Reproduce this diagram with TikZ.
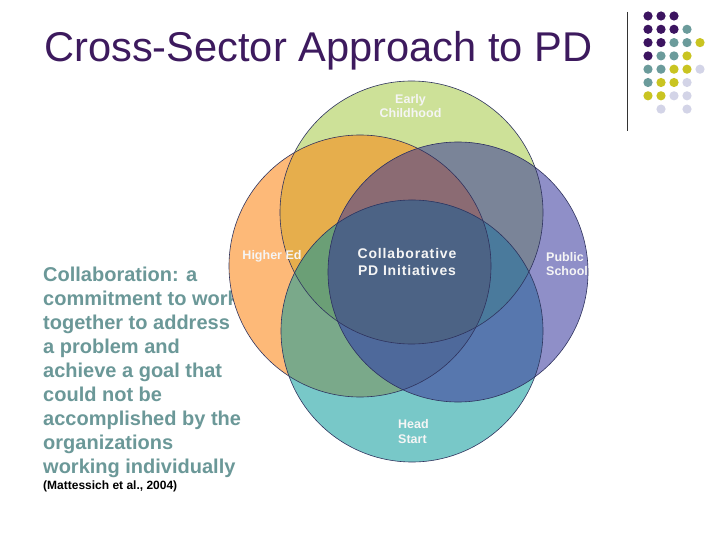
\documentclass[tikz,border=0pt]{standalone}
\usepackage{fontspec}
\setmainfont{Liberation Sans}
\newfontfamily\collabfont[LetterSpace=6]{Liberation Sans}
\usepackage{tikz}
\definecolor{titlepurple}{HTML}{3D1A5E}
\definecolor{bodyteal}{HTML}{6B9898}
\definecolor{vennedge}{HTML}{2F335E}
\definecolor{dotpurple}{HTML}{3C1460}
\definecolor{dotteal}{HTML}{6B9B9B}
\definecolor{dotyellow}{HTML}{C9C421}
\definecolor{dotlilac}{HTML}{D3D4E7}
% region colours of the venn diagram
\definecolor{ecOnly}{HTML}{CDE198}
\definecolor{heOnly}{HTML}{FDB978}
\definecolor{psOnly}{HTML}{8F8FC8}
\definecolor{hsOnly}{HTML}{78C8C8}
\definecolor{ecHe}{HTML}{E6AE4C}
\definecolor{ecPs}{HTML}{7A8498}
\definecolor{ecHs}{HTML}{6CA078}
\definecolor{hePs}{HTML}{80709E}
\definecolor{heHs}{HTML}{7AA98A}
\definecolor{psHs}{HTML}{5777AE}
\definecolor{ecHePs}{HTML}{8B6B73}
\definecolor{ecHeHs}{HTML}{6B9F76}
\definecolor{ecPsHs}{HTML}{4A7A9C}
\definecolor{hePsHs}{HTML}{4E699B}
\definecolor{allFour}{HTML}{4C6385}
\tikzset{
  title text/.style={
    text=titlepurple,
    font=\fontsize{41.6}{50}\selectfont,
    inner sep=0pt
  },
  body text/.style={
    text=bodyteal,
    font=\fontsize{20}{24}\selectfont\bfseries,
    align=left,
    inner sep=0pt
  },
  cite text/.style={
    text=black,
    font=\fontsize{12}{14}\selectfont\bfseries,
    inner sep=0pt
  },
  venn line/.style={draw=vennedge, line width=0.6pt},
  venn label/.style={
    text=white!96!black,
    font=\fontsize{12.5}{14.5}\selectfont\bfseries,
    align=center,
    inner sep=0pt
  },
  collab label/.style={
    venn label,
    font=\fontsize{14}{17}\selectfont\collabfont\bfseries
  },
  corner rule/.style={draw=black!80, line width=1pt}
}
\newcommand{\ecCirc}{(ec) circle[radius=131.5pt]}
\newcommand{\heCirc}{(he) circle[radius=131pt]}
\newcommand{\psCirc}{(ps) circle[radius=130pt]}
\newcommand{\hsCirc}{(hs) circle[radius=131pt]}
\newcommand{\venntwo}[3]{\begin{scope}\clip #1; \fill[#3] #2;\end{scope}}
\newcommand{\vennthree}[4]{\begin{scope}\clip #1; \clip #2; \fill[#4] #3;\end{scope}}
\begin{document}
\begin{tikzpicture}[x=1pt, y=-1pt]
  \useasboundingbox (0,0) rectangle (720,540);
  \fill[white] (0,0) rectangle (720,540);

  % title and corner decoration
  \node[title text, anchor=base west] (title) at (44,62) {Cross-Sector Approach to PD};
  \coordinate (rule top) at (627,12);
  \coordinate (rule bottom) at (627,131);
  \draw[corner rule] (rule top) -- (rule bottom);
  \foreach \c/\r/\col in {0/0/dotpurple, 1/0/dotpurple, 2/0/dotpurple,
      0/1/dotpurple, 1/1/dotpurple, 2/1/dotpurple, 3/1/dotteal,
      0/2/dotpurple, 1/2/dotpurple, 2/2/dotteal, 3/2/dotteal, 4/2/dotyellow,
      0/3/dotpurple, 1/3/dotteal, 2/3/dotteal, 3/3/dotyellow,
      0/4/dotteal, 1/4/dotteal, 2/4/dotyellow, 3/4/dotyellow, 4/4/dotlilac,
      0/5/dotteal, 1/5/dotyellow, 2/5/dotyellow, 3/5/dotlilac,
      0/6/dotyellow, 1/6/dotyellow, 2/6/dotlilac, 3/6/dotlilac,
      1/7/dotlilac, 3/7/dotlilac}
    \fill[\col] ({648+13*\c},{16+13.3*\r}) circle[radius=4.6pt];

  % definition (lies under the circles)
  \node[body text, anchor=north west] (definition) at (43,266.5)
    {Collaboration: a\\commitment to work\\together to address\\a problem and\\achieve a goal that\\could not be\\accomplished by the\\organizations\\working individually};
  \node[cite text, anchor=base west] (cite) at (43,489) {(Mattessich et al., 2004)};

  % the four sectors
  \coordinate (ec) at (411.5,212.5);
  \coordinate (he) at (360,266);
  \coordinate (ps) at (458,272);
  \coordinate (hs) at (412,331);

  \fill[ecOnly] \ecCirc;
  \fill[heOnly] \heCirc;
  \fill[psOnly] \psCirc;
  \fill[hsOnly] \hsCirc;
  \venntwo{\ecCirc}{\heCirc}{ecHe}
  \venntwo{\ecCirc}{\psCirc}{ecPs}
  \venntwo{\ecCirc}{\hsCirc}{ecHs}
  \venntwo{\heCirc}{\psCirc}{hePs}
  \venntwo{\heCirc}{\hsCirc}{heHs}
  \venntwo{\psCirc}{\hsCirc}{psHs}
  \vennthree{\ecCirc}{\heCirc}{\psCirc}{ecHePs}
  \vennthree{\ecCirc}{\heCirc}{\hsCirc}{ecHeHs}
  \vennthree{\ecCirc}{\psCirc}{\hsCirc}{ecPsHs}
  \vennthree{\heCirc}{\psCirc}{\hsCirc}{hePsHs}
  \begin{scope}
    \clip \ecCirc; \clip \heCirc; \clip \psCirc;
    \fill[allFour] \hsCirc;
  \end{scope}

  \draw[venn line] \ecCirc;
  \draw[venn line] \heCirc;
  \draw[venn line] \psCirc;
  \draw[venn line] \hsCirc;

  % labels
  \node[venn label] (early label) at (410.5,106) {Early\\Childhood};
  \node[venn label] (higher label) at (272,256) {Higher Ed};
  \node[collab label] (collab label) at (407,261.5) {Collaborative\\PD Initiatives};
  \begin{scope}
    \clip \psCirc;
    \node[venn label, align=left, anchor=west] (public label) at (546,264) {Public\\School};
  \end{scope}
  \node[venn label, align=left, anchor=west] (head label) at (398,431.5) {Head\\Start};
\end{tikzpicture}
\end{document}
